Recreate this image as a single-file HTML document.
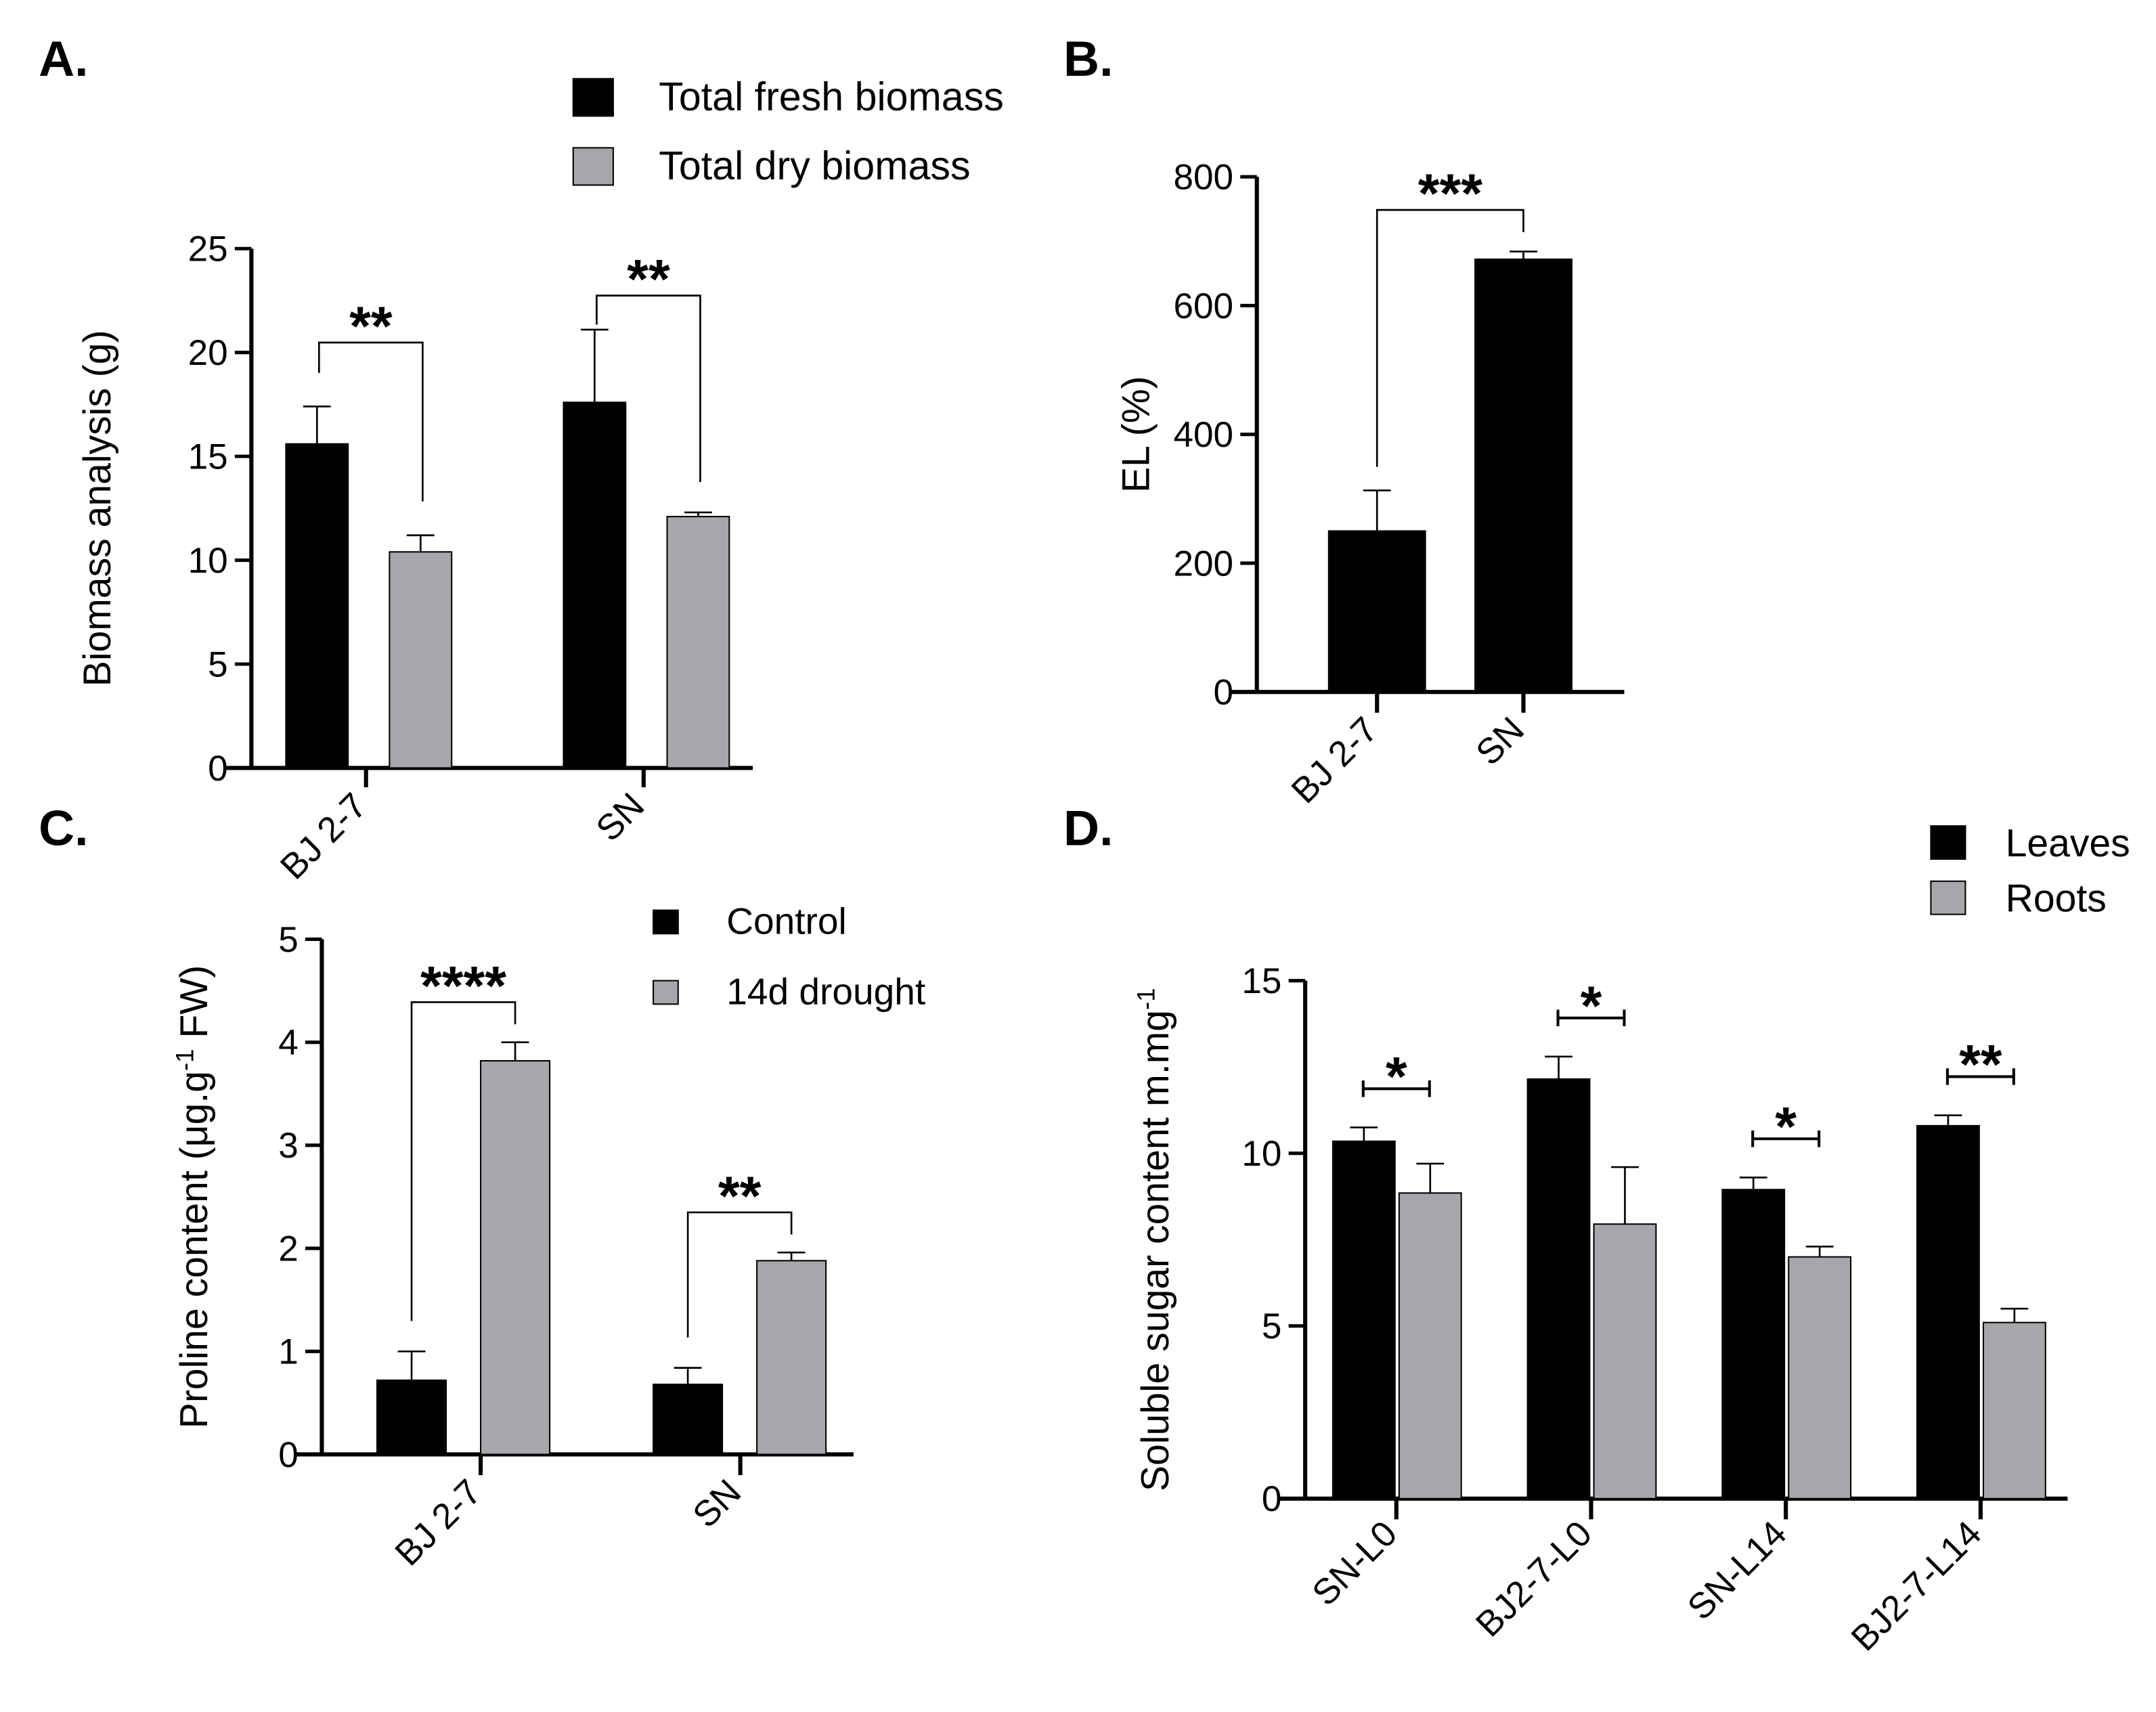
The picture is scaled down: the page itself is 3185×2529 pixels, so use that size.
<!DOCTYPE html>
<html><head><meta charset="utf-8"><style>
html,body{margin:0;padding:0;background:#fff;}
svg{display:block;font-family:"Liberation Sans",sans-serif;}
</style></head><body>
<svg id="fig" width="3185" height="2529" viewBox="0 0 1561 1239.5">
<text x="28" y="55" font-size="36" font-weight="bold">A.</text>
<text x="770" y="55" font-size="36" font-weight="bold">B.</text>
<text x="28" y="612" font-size="36" font-weight="bold">C.</text>
<text x="770" y="612" font-size="36" font-weight="bold">D.</text>
</svg>
<script>
const NS="http://www.w3.org/2000/svg";
const svg=document.getElementById('fig');
// Panel A
const aCats=["BJ 2-7","SN"];
const aFresh=[15.6,17.6], aFreshErr=[1.8,3.5];
const aDry=[10.4,12.1], aDryErr=[0.8,0.2];
const aTicks=[0,5,10,15,20,25];
// Panel B
const bCats=["BJ 2-7","SN"];
const bVals=[250,672], bErr=[63,12];
const bTicks=[0,200,400,600,800];
// Panel C
const cCats=["BJ 2-7","SN"];
const cCtrl=[0.72,0.68], cCtrlErr=[0.28,0.16];
const cDrought=[3.82,1.88], cDroughtErr=[0.18,0.08];
const cTicks=[0,1,2,3,4,5];
// Panel D
const dCats=["SN-L0","BJ2-7-L0","SN-L14","BJ2-7-L14"];
const dLeaves=[10.35,12.15,8.95,10.8], dLeavesErr=[0.4,0.65,0.35,0.3];
const dRoots=[8.85,7.95,7.0,5.1], dRootsErr=[0.85,1.65,0.3,0.4];
const dTicks=[0,5,10,15];

function mk(tag,attrs,parent){const e=document.createElementNS(NS,tag);for(const k in attrs)e.setAttribute(k,attrs[k]);(parent||svg).appendChild(e);return e;}
function line(x1,y1,x2,y2,w,name){const e=mk('line',{x1,y1,x2,y2,stroke:'#000','stroke-width':w});

return e;}
function txt(x,y,s,size,anchor,name,extra){const e=mk('text',Object.assign({x,y,'font-size':size,'text-anchor':anchor},extra||{}));e.textContent=s;

return e;}
function rect(x,y,w,h,fill,name){const e=mk('rect',{x,y,width:w,height:h,fill,stroke:'#000','stroke-width':1});

return e;}
function axes(P,ticks,titleX){
  line(P.ax,P.y0,P.ax,P.yTop,3,'y-axis');
  line(P.xl,P.y0,P.xr,P.y0,3,'x-axis');
  ticks.forEach(t=>{const y=P.sy(t);line(P.ax-12,y,P.ax,y,2.5,'y-tick');txt(P.ax-17,y+9,String(t),26,'end','y-tick-label');});
  const cy=(P.y0+P.yTop)/2;
  return txt(titleX,cy,'',28,'middle','y-axis-title',{transform:`rotate(-90 ${titleX} ${cy})`});
}
function bar(P,x,w,v,err,fill,name){
  const y=P.sy(v);rect(x,y,w,P.y0-y,fill,name);
  const ye=P.sy(v+err);const cx=x+w/2;
  line(cx,y,cx,ye,1.3,'error-bar');line(cx-10,ye,cx+10,ye,1.3,'error-cap');
}
function xlabel(x,y,s){txt(x,y,s,26,'end','x-tick-label',{transform:`rotate(-45 ${x} ${y})`});}
function stars(x,y,s){txt(x,y,s,40,'middle','significance-stars',{'font-weight':'bold'});}
function bracket(x1,y1,x2,y2,yb,s,name){
  const p=mk('path',{d:`M${x1} ${y1}V${yb}H${x2}V${y2}`,fill:'none',stroke:'#000','stroke-width':1.3});
  
  
  stars((x1+x2)/2,yb+2,s);
}
function hbracket(x1,x2,yb,s){
  line(x1,yb,x2,yb,2,'significance-line');line(x1,yb-6,x1,yb+6,2,'significance-cap');line(x2,yb-6,x2,yb+6,2,'significance-cap');
  stars((x1+x2)/2,yb+5,s);
}
// ---- A
{const P={ax:182,y0:556,yTop:180,xl:162,xr:545,max:25};P.sy=v=>P.y0-v/P.max*(P.y0-P.yTop);
 const t=axes(P,aTicks,80);t.textContent='Biomass analysis (g)';
 const gx=[207,408];
 const bY=[248,214], bL=[270,235], bR=[363,349];
 aCats.forEach((c,i)=>{bar(P,gx[i],45,aFresh[i],aFreshErr[i],'#000','bar-fresh-'+i);bar(P,gx[i]+75,45,aDry[i],aDryErr[i],'#a6a7aa','bar-dry-'+i);
   const tx=gx[i]+58;line(tx,556,tx,570,3,'x-tick');xlabel(tx+2,585,c);
   bracket(gx[i]+24,bL[i],gx[i]+99,bR[i],bY[i],'**','bracket-a-'+i);});
 rect(415,57,29,27,'#000','legend-fresh-swatch');txt(477,80,'Total fresh biomass',29,'start','legend-fresh-label');
 rect(415,107,29,27,'#a6a7aa','legend-dry-swatch');txt(477,130,'Total dry biomass',29,'start','legend-dry-label');
}
// ---- B
{const P={ax:910,y0:501,yTop:128,xl:890,xr:1176,max:800};P.sy=v=>P.y0-v/P.max*(P.y0-P.yTop);
 const t=axes(P,bTicks,832);t.textContent='EL (%)';
 const gx=[962,1068];
 bCats.forEach((c,i)=>{bar(P,gx[i],70,bVals[i],bErr[i],'#000','bar-el-'+i);const tx=gx[i]+35;line(tx,501,tx,516,3,'x-tick');xlabel(tx+2,530,c);});
 bracket(997,338,1103,168,152,'***','bracket-b');
}
// ---- C
{const P={ax:233,y0:1053,yTop:680,xl:213,xr:618,max:5};P.sy=v=>P.y0-v/P.max*(P.y0-P.yTop);
 const t=axes(P,cTicks,150);t.innerHTML='Proline content (μg.g<tspan dy="-10" font-size="18">-1</tspan><tspan dy="10"> FW)</tspan>';
 const gx=[273,473];
 cCats.forEach((c,i)=>{bar(P,gx[i],50,cCtrl[i],cCtrlErr[i],'#000','bar-control-'+i);bar(P,gx[i]+75,50,cDrought[i],cDroughtErr[i],'#a6a7aa','bar-drought-'+i);
   const tx=gx[i]+75-(i?12:0);line(tx,1053,tx,1068,3,'x-tick');xlabel(tx+2,1082,c);
   const t1=P.sy(cCtrl[i]+cCtrlErr[i])-22,t2=P.sy(cDrought[i]+cDroughtErr[i])-13;
   bracket(gx[i]+25,t1,gx[i]+100,t2,Math.min(t1,t2)-16,i?'**':'****','bracket-c-'+i);});
 rect(473,659,18,17,'#000','legend-control-swatch');txt(526,676,'Control',27,'start','legend-control-label');
 rect(473,710,18,17,'#a6a7aa','legend-drought-swatch');txt(526,727,'14d drought',27,'start','legend-drought-label');
}
// ---- D
{const P={ax:945,y0:1085,yTop:710,xl:925,xr:1497,max:15};P.sy=v=>P.y0-v/P.max*(P.y0-P.yTop);
 const t=axes(P,dTicks,846);t.innerHTML='Soluble sugar content m.mg<tspan dy="-10" font-size="18">-1</tspan>';
 const gx=[965,1106,1247,1388];
 dCats.forEach((c,i)=>{bar(P,gx[i],45,dLeaves[i],dLeavesErr[i],'#000','bar-leaves-'+i);bar(P,gx[i]+48,45,dRoots[i],dRootsErr[i],'#a6a7aa','bar-roots-'+i);
   const tx=gx[i]+46;line(tx,1085,tx,1100,3,'x-tick');xlabel(tx+2,1112,c);
   const yb=P.sy(dLeaves[i]+dLeavesErr[i])-28;hbracket(gx[i]+22,gx[i]+70,yb,i==3?'**':'*');});
 rect(1398,598,25,24,'#000','legend-leaves-swatch');txt(1452,620,'Leaves',28,'start','legend-leaves-label');
 rect(1398,638,25,24,'#a6a7aa','legend-roots-swatch');txt(1452,660,'Roots',28,'start','legend-roots-label');
}
</script>
</body></html>
